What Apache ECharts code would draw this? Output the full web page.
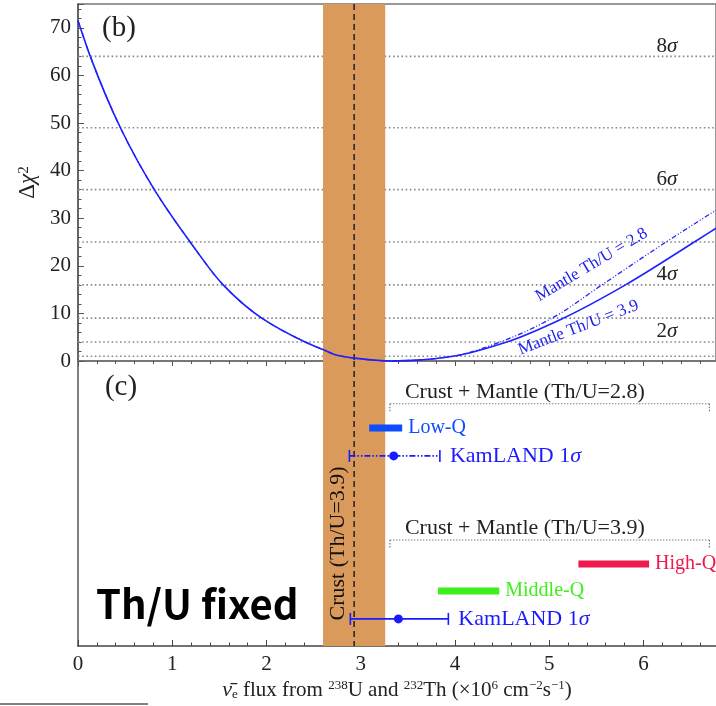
<!DOCTYPE html>
<html>
<head>
<meta charset="utf-8">
<script src="https://cdn.jsdelivr.net/npm/echarts@6/dist/echarts.min.js"></script>
<style>html,body{margin:0;padding:0;background:#fff}#main{width:716px;height:706px}</style>
</head>
<body>
<div id="main"></div>
<script>
var SERIF = '"Liberation Serif", "Times New Roman", serif';
var BLUE = '#2020ff';

// panel (b): delta chi^2 against flux
var fluxMax = 6.77;
var chiFlux39 = [0, 0.13, 0.45, 0.81, 1.19, 1.54, 1.95, 2.41, 2.6, 2.75, 2.93, 3.2, 3.35, 3.65, 3.98, 4.55, 5.15, 5.81, 6.54, 6.77];
var chiVal39  = [71.5, 64, 49, 36, 25, 16, 9, 4, 2.4, 1.2, 0.6, 0.1, 0, 0.25, 1, 4, 9, 16, 25, 27.9];
var chiFlux28 = [0, 0.13, 0.45, 0.81, 1.19, 1.54, 1.95, 2.41, 2.6, 2.75, 2.93, 3.2, 3.35, 3.65, 3.98, 4.48, 5.03, 5.56, 6.24, 6.77];
var chiVal28  = [71.5, 64, 49, 36, 25, 16, 9, 4, 2.4, 1.2, 0.6, 0.1, 0, 0.25, 1, 4, 9, 16, 25, 31.7];
var sigmaLevels = [1, 4, 9, 16, 25, 36, 49, 64];
var sigmaTagLevels = [4, 16, 36, 64];
var sigmaTagNames = ['2', '4', '6', '8'];
var sigmaTagFlux = 6.25;
var curveTagNames = ['Mantle Th/U = 2.8', 'Mantle Th/U = 3.9'];
var curveTagFlux = [5.45, 5.31];
var curveTagChi = [20.2, 7.0];
var curveTagAngle = [31, 21];

var crustBand = [2.60, 3.26];
var crustCentral = 2.93;

// panel (c): model predictions and measurements
var bracketRange = [3.31, 6.70];
var bracketRows = [8.5, 3.72];
var bracketNames = ['Crust + Mantle (Th/U=2.8)', 'Crust + Mantle (Th/U=3.9)'];
var modelNames = ['Low-Q', 'Middle-Q', 'High-Q'];
var modelLow = [3.09, 3.82, 5.31];
var modelHigh = [3.44, 4.47, 6.06];
var modelRows = [7.65, 1.93, 2.88];
var modelColors = ['#0d4dff', '#3def1c', '#ee1a4d'];
var kamLow = [2.88, 2.89];
var kamBest = [3.35, 3.40];
var kamHigh = [3.84, 3.93];
var kamRows = [6.67, 0.95];
var crustTag = [2.76, 3.6];

var chart = echarts.init(document.getElementById('main'));

function crustRender(params, api) {
  var cs = params.coordSys;
  var x0 = api.coord([crustBand[0], 0])[0];
  var x1 = api.coord([crustBand[1], 0])[0];
  var xc = api.coord([crustCentral, 0])[0];
  return {
    type: 'group',
    children: [
      { type: 'rect', shape: { x: x0, y: cs.y, width: x1 - x0, height: cs.height },
        style: { fill: '#d99a5c' } },
      { type: 'line', shape: { x1: xc, y1: cs.y, x2: xc, y2: cs.y + cs.height },
        style: { stroke: '#222', lineWidth: 1.5, lineDash: [6, 4] } }
    ]
  };
}

// smooth (monotone cubic) curve through the read points, placed with the axes' scales
function curveRender(xs, ys, width, dash) {
  return function (params, api) {
    var n = xs.length, h = [], d = [], m = [], i;
    for (i = 0; i < n - 1; i++) {
      h[i] = xs[i + 1] - xs[i];
      d[i] = (ys[i + 1] - ys[i]) / h[i];
    }
    m[0] = d[0];
    m[n - 1] = d[n - 2];
    for (i = 1; i < n - 1; i++) {
      if (d[i - 1] * d[i] <= 0) {
        m[i] = 0;
      } else {
        var w1 = 2 * h[i] + h[i - 1], w2 = h[i] + 2 * h[i - 1];
        m[i] = (w1 + w2) / (w1 / d[i - 1] + w2 / d[i]);
      }
    }
    var children = [], offset = 0;
    for (i = 0; i < n - 1; i++) {
      var p0 = api.coord([xs[i], ys[i]]);
      var p1 = api.coord([xs[i + 1], ys[i + 1]]);
      var c1 = api.coord([xs[i] + h[i] / 3, ys[i] + m[i] * h[i] / 3]);
      var c2 = api.coord([xs[i + 1] - h[i] / 3, ys[i + 1] - m[i + 1] * h[i] / 3]);
      children.push({
        type: 'bezierCurve',
        shape: { x1: p0[0], y1: p0[1], x2: p1[0], y2: p1[1],
          cpx1: c1[0], cpy1: c1[1], cpx2: c2[0], cpy2: c2[1] },
        style: { stroke: BLUE, fill: 'none', lineWidth: width,
          lineDash: dash, lineDashOffset: offset }
      });
      var chord = Math.hypot(p1[0] - p0[0], p1[1] - p0[1]);
      var poly = Math.hypot(c1[0] - p0[0], c1[1] - p0[1]) + Math.hypot(c2[0] - c1[0], c2[1] - c1[1]) +
        Math.hypot(p1[0] - c2[0], p1[1] - c2[1]);
      offset += (chord + poly) / 2;
    }
    return { type: 'group', children: children };
  };
}

var sigmaRich = {
  n: { fontSize: 21, fontFamily: SERIF, fill: '#222' },
  s: { fontSize: 21, fontFamily: SERIF, fontStyle: 'italic', fill: '#222' }
};
var kamRich = {
  a: { fontSize: 22, fontFamily: SERIF, fill: '#1a1aff' },
  b: { fontSize: 22, fontFamily: SERIF, fontStyle: 'italic', fill: '#1a1aff' }
};

var lineSeries = modelNames.map(function (name, i) {
  return {
    name: name,
    type: 'line',
    xAxisIndex: 1, yAxisIndex: 1,
    data: [[modelLow[i], modelRows[i]], [modelHigh[i], modelRows[i]]],
    showSymbol: false,
    symbol: 'none',
    z: 5,
    lineStyle: { color: modelColors[i], width: 7, cap: 'butt' },
    endLabel: {
      show: true, formatter: name, color: modelColors[i],
      fontSize: 20, fontFamily: SERIF, distance: 6
    },
    silent: true
  };
});

var option = {
  animation: false,
  backgroundColor: '#fff',
  grid: [
    { left: 78, right: 0, top: 4, height: 357, show: true, borderColor: '#777', borderWidth: 1.5 },
    { left: 78, right: 0, top: 361, height: 285 }
  ],
  xAxis: [
    {
      gridIndex: 0, type: 'value', min: 0, max: fluxMax, interval: 1,
      axisLine: { lineStyle: { color: '#777', width: 2 } },
      axisTick: { inside: false, length: 5, lineStyle: { color: '#555' } },
      minorTick: { show: true, splitNumber: 5, length: 3, lineStyle: { color: '#555' } },
      axisLabel: { show: false },
      splitLine: { show: false }
    },
    {
      gridIndex: 1, type: 'value', min: 0, max: fluxMax, interval: 1,
      axisLine: { lineStyle: { color: '#444', width: 1.5 } },
      axisTick: { inside: true, length: 6, lineStyle: { color: '#444' } },
      minorTick: { show: true, splitNumber: 5, length: 3.5, lineStyle: { color: '#444' } },
      axisLabel: { fontSize: 21, fontFamily: SERIF, color: '#222', margin: 8, showMaxLabel: false },
      splitLine: { show: false },
      name: '{nu|ν̄}{sub|e} flux from {sup|238}U and {sup|232}Th (×10{sup|6} cm{sup|−2}s{sup|−1})',
      nameLocation: 'middle',
      nameGap: 33,
      nameTextStyle: {
        fontSize: 21, fontFamily: SERIF, color: '#222',
        rich: {
          nu: { fontSize: 22, fontFamily: SERIF, fontStyle: 'italic', color: '#222' },
          sub: { fontSize: 13, fontFamily: SERIF, color: '#222', verticalAlign: 'bottom' },
          sup: { fontSize: 13, fontFamily: SERIF, color: '#222', verticalAlign: 'top' }
        }
      }
    }
  ],
  yAxis: [
    {
      gridIndex: 0, type: 'value', min: 0, max: 75, interval: 10,
      axisLine: { show: true, lineStyle: { color: '#555', width: 1.5 } },
      axisTick: { inside: true, length: 6, lineStyle: { color: '#555' } },
      minorTick: { show: true, splitNumber: 5, length: 3.5, lineStyle: { color: '#555' } },
      axisLabel: { fontSize: 21, fontFamily: SERIF, color: '#222', margin: 7, showMaxLabel: false },
      splitLine: { show: false },
      name: '{d|Δ}{c|χ}{s|2}',
      nameLocation: 'middle',
      nameGap: 31,
      nameTextStyle: {
        rich: {
          d: { fontSize: 23, fontFamily: SERIF, color: '#222' },
          c: { fontSize: 23, fontFamily: SERIF, fontStyle: 'italic', color: '#222' },
          s: { fontSize: 15, fontFamily: SERIF, color: '#222', verticalAlign: 'top' }
        }
      }
    },
    {
      gridIndex: 1, type: 'value', min: 0, max: 10,
      axisLine: { show: true, lineStyle: { color: '#555', width: 1.5 } },
      axisTick: { show: false },
      axisLabel: { show: false },
      splitLine: { show: false }
    }
  ],
  series: [
    {
      name: 'sigma lines',
      type: 'custom',
      xAxisIndex: 0, yAxisIndex: 0,
      z: 1, silent: true,
      data: sigmaLevels.map(function (v) { return [0, v]; }),
      renderItem: function (params, api) {
        var v = api.value(1);
        var a = api.coord([0, v]), b = api.coord([fluxMax, v]);
        return { type: 'line', shape: { x1: a[0], y1: a[1], x2: b[0], y2: b[1] },
          style: { stroke: '#8a8a8a', lineWidth: 1.6, lineDash: [1.6, 2.6] } };
      }
    },
    {
      name: 'crust b',
      type: 'custom', xAxisIndex: 0, yAxisIndex: 0, z: 2, silent: true,
      data: [[crustCentral, 0]],
      renderItem: crustRender
    },
    {
      name: 'crust c',
      type: 'custom', xAxisIndex: 1, yAxisIndex: 1, z: 2, silent: true,
      data: [[crustCentral, 0]],
      renderItem: crustRender
    },
    {
      name: 'Mantle Th/U = 2.8',
      type: 'custom', xAxisIndex: 0, yAxisIndex: 0, z: 3, silent: true,
      data: [[chiFlux28[0], chiVal28[0]]],
      renderItem: curveRender(chiFlux28, chiVal28, 1.3, [5, 2, 1, 2, 1, 2])
    },
    {
      name: 'Mantle Th/U = 3.9',
      type: 'custom', xAxisIndex: 0, yAxisIndex: 0, z: 3, silent: true,
      data: [[chiFlux39[0], chiVal39[0]]],
      renderItem: curveRender(chiFlux39, chiVal39, 1.6, null)
    },
    {
      name: 'sigma tags',
      type: 'custom', xAxisIndex: 0, yAxisIndex: 0, z: 4, silent: true,
      data: sigmaTagLevels.map(function (v) { return [sigmaTagFlux, v]; }),
      renderItem: function (params, api) {
        var p = api.coord([api.value(0), api.value(1)]);
        return { type: 'text', x: p[0], y: p[1] - 10,
          style: { text: '{n|' + sigmaTagNames[params.dataIndex] + '}{s|σ}', rich: sigmaRich,
            align: 'center', verticalAlign: 'middle', fill: '#222' } };
      }
    },
    {
      name: 'curve tags',
      type: 'custom', xAxisIndex: 0, yAxisIndex: 0, z: 4, silent: true,
      data: curveTagFlux.map(function (x, i) { return [x, curveTagChi[i]]; }),
      renderItem: function (params, api) {
        var i = params.dataIndex;
        var p = api.coord([api.value(0), api.value(1)]);
        return { type: 'text', x: p[0], y: p[1], rotation: curveTagAngle[i] * Math.PI / 180,
          style: { text: curveTagNames[i], fontSize: 17, fontFamily: SERIF, fill: '#2222ee',
            align: 'center', verticalAlign: 'middle' } };
      }
    },
    {
      name: 'brackets',
      type: 'custom', xAxisIndex: 1, yAxisIndex: 1, z: 4, silent: true,
      data: bracketRows.map(function (r) { return [bracketRange[0], r]; }),
      renderItem: function (params, api) {
        var i = params.dataIndex;
        var a = api.coord([bracketRange[0], bracketRows[i]]);
        var b = api.coord([bracketRange[1], bracketRows[i]]);
        var st = { stroke: '#777', lineWidth: 1.2, lineDash: [1.4, 1.6] };
        return { type: 'group', children: [
          { type: 'line', shape: { x1: a[0], y1: a[1], x2: b[0], y2: b[1] }, style: st },
          { type: 'line', shape: { x1: a[0], y1: a[1], x2: a[0], y2: a[1] + 9 }, style: st },
          { type: 'line', shape: { x1: b[0], y1: b[1], x2: b[0], y2: b[1] + 9 }, style: st },
          { type: 'text', x: a[0] + 15, y: a[1] - 12,
            style: { text: bracketNames[i], fontSize: 22, fontFamily: SERIF, fill: '#222',
              align: 'left', verticalAlign: 'middle' } }
        ] };
      }
    },
    {
      name: 'KamLAND',
      type: 'custom', xAxisIndex: 1, yAxisIndex: 1, z: 6, silent: true,
      data: kamRows.map(function (r, i) { return [kamBest[i], r]; }),
      renderItem: function (params, api) {
        var i = params.dataIndex;
        var lo = api.coord([kamLow[i], kamRows[i]]);
        var mid = api.coord([kamBest[i], kamRows[i]]);
        var hi = api.coord([kamHigh[i], kamRows[i]]);
        var dash = i === 0 ? [6, 2, 1.5, 2, 1.5, 2] : null;
        var cap = { stroke: '#1a1aff', lineWidth: 1.6 };
        return { type: 'group', children: [
          { type: 'line', shape: { x1: lo[0], y1: lo[1], x2: hi[0], y2: hi[1] },
            style: { stroke: '#1a1aff', lineWidth: 1.8, lineDash: dash } },
          { type: 'line', shape: { x1: lo[0], y1: lo[1] - 6, x2: lo[0], y2: lo[1] + 6 }, style: cap },
          { type: 'line', shape: { x1: hi[0], y1: hi[1] - 6, x2: hi[0], y2: hi[1] + 6 }, style: cap },
          { type: 'circle', shape: { cx: mid[0], cy: mid[1], r: 4.5 }, style: { fill: '#1a1aff' } },
          { type: 'text', x: hi[0] + 10, y: hi[1],
            style: { text: '{a|KamLAND 1}{b|σ}', rich: kamRich, fill: '#1a1aff',
              align: 'left', verticalAlign: 'middle' } }
        ] };
      }
    },
    {
      name: 'crust tag',
      type: 'custom', xAxisIndex: 1, yAxisIndex: 1, z: 4, silent: true,
      data: [crustTag],
      renderItem: function (params, api) {
        var p = api.coord([api.value(0), api.value(1)]);
        return { type: 'text', x: p[0], y: p[1], rotation: Math.PI / 2,
          style: { text: 'Crust (Th/U=3.9)', fontSize: 22, fontFamily: SERIF, fill: '#111',
            align: 'center', verticalAlign: 'middle' } };
      }
    }
  ].concat(lineSeries),
  graphic: [
    { type: 'text', x: 119, y: 28, style: { text: '(b)', fontSize: 29, fontFamily: SERIF, fill: '#222',
      align: 'center', verticalAlign: 'middle' } },
    { type: 'text', x: 121, y: 387, style: { text: '(c)', fontSize: 29, fontFamily: SERIF, fill: '#222',
      align: 'center', verticalAlign: 'middle' } },
    { type: 'text', x: 96, y: 604, style: { text: 'Th/U fixed', fontSize: 40, fontWeight: 'bold',
      fontFamily: '"Noto Sans CJK KR", "Noto Sans", sans-serif', fill: '#000',
      align: 'left', verticalAlign: 'middle' } },
    { type: 'line', shape: { x1: 0, y1: 704, x2: 148, y2: 704 }, style: { stroke: '#000', lineWidth: 1 } }
  ]
};

chart.setOption(option);
</script>
</body>
</html>
